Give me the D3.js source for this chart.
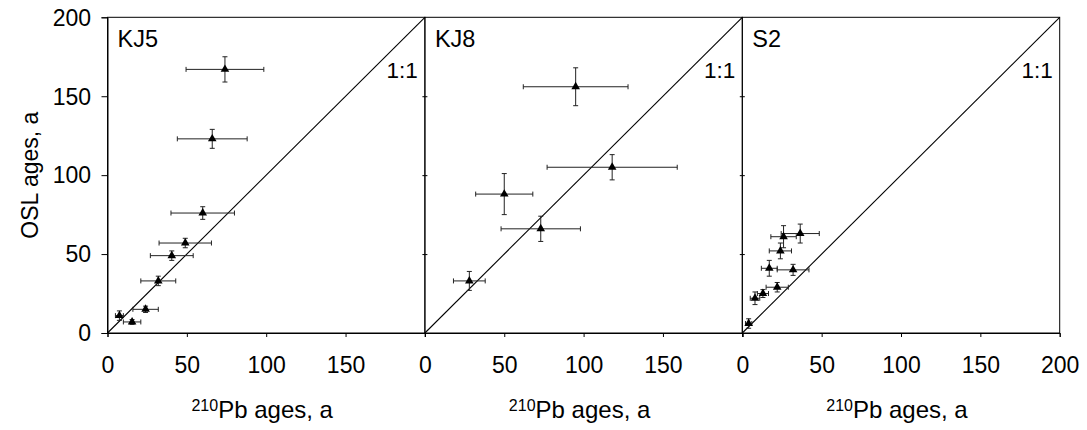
<!DOCTYPE html>
<html>
<head>
<meta charset="utf-8">
<script src="https://cdnjs.cloudflare.com/ajax/libs/d3/7.8.5/d3.min.js"></script>
<style>
  body { margin: 0; background: #fff; }
  svg { display: block; font-family: "Liberation Sans", Arial, sans-serif; }
</style>
</head>
<body>
<svg id="chart" width="1087" height="430"></svg>
<script>
// Panel names and ticks
const panelNames = ["KJ5", "KJ8", "S2"];
const axisTicks = [0, 50, 100, 150, 200];

// KJ5
const kj5Pb = [74, 66, 60, 49, 40.5, 32, 24, 15.5, 7.5];
const kj5PbErr = [24.5, 22, 20, 16.5, 13.5, 11, 8, 5.5, 2.5];
const kj5Osl = [167, 123, 76, 57, 49, 33, 15, 7, 11];
const kj5OslErr = [8, 6, 4, 3, 3, 3, 2, 1.5, 3];

// KJ8
const kj8Pb = [95, 118, 50, 73, 28];
const kj8PbErr = [33, 41, 18, 25, 10];
const kj8Osl = [156, 105, 88, 66, 33];
const kj8OslErr = [12, 8, 13, 8, 6];

// S2
const s2Pb = [36.5, 26, 24, 17, 32, 22, 13, 8, 4];
const s2PbErr = [12, 8, 7, 5, 10, 7, 3.5, 3, 2];
const s2Osl = [63, 61, 52, 41, 40, 29, 25, 22, 6];
const s2OslErr = [6, 7, 5, 5, 3.5, 3, 2.5, 4, 3];

const series = [
    { pb: kj5Pb, pbErr: kj5PbErr, osl: kj5Osl, oslErr: kj5OslErr },
    { pb: kj8Pb, pbErr: kj8PbErr, osl: kj8Osl, oslErr: kj8OslErr },
    { pb: s2Pb, pbErr: s2PbErr, osl: s2Osl, oslErr: s2OslErr }
];

const svg = d3.select('#chart');

// Layout
const plotLeft = 107.5, plotTop = 17.3, plotBottom = 333;
const panelW = 317.4;
const panelH = plotBottom - plotTop;

const y = d3.scaleLinear().domain([0, 200]).range([panelH, 0]);
const x = d3.scaleLinear().domain([0, 200]).range([0, panelW]);

const errColor = "#222";
const cap = 2.5;

series.forEach((s, i) => {
    const g = svg.append('g')
        .attr('transform', `translate(${plotLeft + i * panelW},${plotTop})`);

    const pts = s.pb.map((v, k) => ({ x: v, xe: s.pbErr[k], y: s.osl[k], ye: s.oslErr[k] }));

    // 1:1 line
    g.append('line')
        .attr('x1', x(0)).attr('y1', y(0))
        .attr('x2', x(200)).attr('y2', y(200))
        .attr('stroke', '#000').attr('stroke-width', 1.1);

    // Frame
    g.append('rect')
        .attr('x', 0).attr('y', 0)
        .attr('width', panelW).attr('height', panelH)
        .attr('fill', 'none').attr('stroke', '#000').attr('stroke-width', 1);

    // X axis
    const xTickVals = i === 2 ? axisTicks : axisTicks.slice(0, 4);
    const xa = g.append('g')
        .attr('transform', `translate(0,${panelH})`)
        .call(d3.axisBottom(x).tickValues(axisTicks).tickSize(4).tickFormat(d => xTickVals.includes(d) ? d : ''));
    xa.selectAll('text').attr('y', 24).attr('dy', '0.71em')
        .style('font-size', '23px').style('fill', '#000');

    // Y axis (left of first panel, crossing ticks on shared edges)
    if (i === 0) {
        const ya = g.append('g')
            .call(d3.axisLeft(y).tickValues(axisTicks).tickSize(6));
        ya.selectAll('text').attr('x', -16.5).attr('dy', '0.34em')
            .style('font-size', '23px').style('fill', '#000');
    } else {
        const yi = g.append('g')
            .attr('transform', 'translate(2.5,0)')
            .call(d3.axisLeft(y).tickValues(axisTicks.slice(1, 4)).tickSize(5).tickFormat(''));
        yi.select('.domain').remove();
    }
    g.selectAll('.domain').attr('stroke', '#000');
    g.selectAll('.tick line').attr('stroke', '#000');

    // Error bars
    const eb = g.append('g').attr('stroke', errColor).attr('stroke-width', 1).attr('fill', 'none');
    pts.forEach(d => {
        eb.append('line').attr('x1', x(d.x - d.xe)).attr('x2', x(d.x + d.xe)).attr('y1', y(d.y)).attr('y2', y(d.y));
        eb.append('line').attr('x1', x(d.x - d.xe)).attr('x2', x(d.x - d.xe)).attr('y1', y(d.y) - cap).attr('y2', y(d.y) + cap);
        eb.append('line').attr('x1', x(d.x + d.xe)).attr('x2', x(d.x + d.xe)).attr('y1', y(d.y) - cap).attr('y2', y(d.y) + cap);
        eb.append('line').attr('x1', x(d.x)).attr('x2', x(d.x)).attr('y1', y(d.y - d.ye)).attr('y2', y(d.y + d.ye));
        eb.append('line').attr('x1', x(d.x) - cap).attr('x2', x(d.x) + cap).attr('y1', y(d.y - d.ye)).attr('y2', y(d.y - d.ye));
        eb.append('line').attr('x1', x(d.x) - cap).attr('x2', x(d.x) + cap).attr('y1', y(d.y + d.ye)).attr('y2', y(d.y + d.ye));
    });

    // Triangles
    g.selectAll('.pt')
        .data(pts)
        .enter().append('path')
        .attr('class', 'pt')
        .attr('d', d3.symbol().type(d3.symbolTriangle).size(32))
        .attr('transform', d => `translate(${x(d.x)},${y(d.y)})`)
        .attr('fill', '#000');

    // Panel label
    g.append('text')
        .attr('x', 10).attr('y', 29.5)
        .style('font-size', '23.5px')
        .text(panelNames[i]);

    // 1:1 label
    g.append('text')
        .attr('x', panelW - 7).attr('y', 60.5)
        .attr('text-anchor', 'end')
        .style('font-size', '22.5px')
        .text('1:1');

    // X axis title
    const t = g.append('text')
        .attr('x', panelW / 2 - 4).attr('y', 418 - plotTop)
        .attr('text-anchor', 'middle')
        .style('font-size', '24px');
    t.append('tspan').attr('dy', '-7px').style('font-size', '16px').text('210');
    t.append('tspan').attr('dy', '7px').text('Pb ages, a');
});

// Y axis title
svg.append('text')
    .attr('transform', 'rotate(-90)')
    .attr('x', -(plotTop + panelH / 2))
    .attr('y', 38)
    .attr('text-anchor', 'middle')
    .style('font-size', '23px')
    .text('OSL ages, a');
</script>
</body>
</html>
